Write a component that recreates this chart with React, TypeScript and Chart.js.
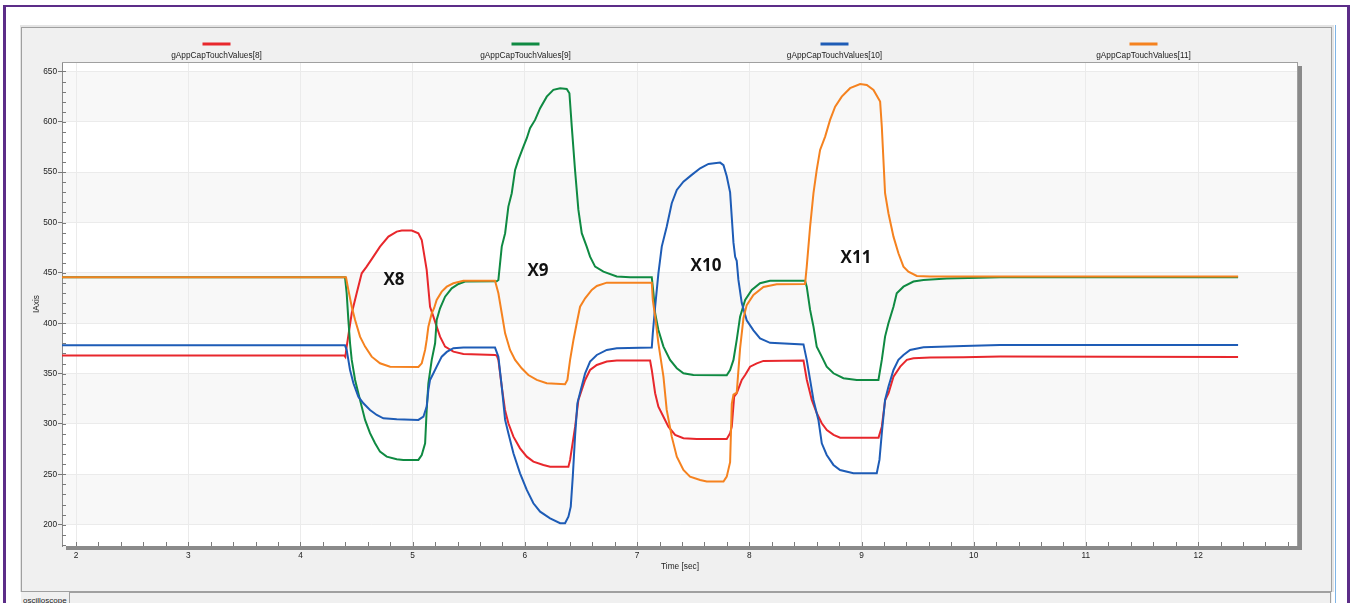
import React, { useEffect, useRef } from 'react';
import { Chart, registerables } from 'chart.js';

Chart.register(...registerables);

const SERIES_LABELS = ['gAppCapTouchValues[8]', 'gAppCapTouchValues[9]', 'gAppCapTouchValues[10]', 'gAppCapTouchValues[11]'];
const SERIES_COLORS = ['#E8272C', '#0F8A42', '#1E5CB6', '#F5821F'];

const RED_T = [1.875, 4.39, 4.4, 4.412, 4.457, 4.501, 4.546, 4.59, 4.65, 4.709, 4.784, 4.858, 4.903, 4.992, 5.051, 5.081, 5.125, 5.155, 5.185, 5.214, 5.244, 5.289, 5.363, 5.452, 5.735, 5.749, 5.764, 5.794, 5.823, 5.853, 5.898, 5.957, 6.017, 6.076, 6.165, 6.225, 6.388, 6.403, 6.448, 6.477, 6.507, 6.537, 6.581, 6.641, 6.73, 6.819, 7.116, 7.131, 7.161, 7.19, 7.235, 7.279, 7.339, 7.413, 7.532, 7.799, 7.829, 7.844, 7.865, 7.888, 7.933, 7.963, 8.007, 8.067, 8.126, 8.483, 8.513, 8.557, 8.602, 8.646, 8.691, 8.751, 8.81, 9.152, 9.181, 9.211, 9.241, 9.285, 9.345, 9.404, 9.463, 9.612, 9.909, 10.236, 12.356];
const RED_V = [368, 368, 366.5, 376.8, 409.9, 429.8, 449.6, 456.2, 466.1, 476.1, 486, 491, 492, 492, 489.4, 482.7, 452.9, 416.4, 406.5, 396.6, 386.7, 376.8, 371.8, 369.5, 368.5, 368, 363.6, 337, 313.9, 300.7, 287.4, 275.8, 267.5, 262.6, 259.3, 257.6, 257.6, 264.3, 297.3, 323.8, 333.8, 343.7, 353.6, 358.6, 361.9, 362.9, 362.9, 353.6, 330.5, 317.2, 307.2, 297.3, 289.1, 285.8, 285.1, 285.1, 290.8, 297.3, 327.1, 330.5, 343.7, 348.6, 356.9, 360.2, 362.6, 362.9, 343.7, 323.8, 310.6, 300.7, 294, 289.1, 286.4, 286.4, 297.3, 323.8, 330.5, 347, 356.9, 363.6, 365.2, 365.9, 366.2, 366.9, 366.5];

const GREEN_T = [1.875, 4.397, 4.412, 4.427, 4.442, 4.457, 4.487, 4.516, 4.546, 4.576, 4.62, 4.665, 4.709, 4.769, 4.858, 4.917, 5.051, 5.081, 5.111, 5.125, 5.14, 5.17, 5.2, 5.214, 5.244, 5.289, 5.348, 5.408, 5.467, 5.749, 5.764, 5.794, 5.824, 5.853, 5.883, 5.913, 5.942, 5.987, 6.017, 6.046, 6.091, 6.136, 6.195, 6.254, 6.314, 6.373, 6.397, 6.418, 6.447, 6.477, 6.507, 6.551, 6.581, 6.626, 6.7, 6.819, 6.938, 7.131, 7.146, 7.161, 7.19, 7.235, 7.294, 7.354, 7.413, 7.502, 7.799, 7.829, 7.859, 7.888, 7.918, 7.963, 8.022, 8.096, 8.185, 8.497, 8.512, 8.542, 8.572, 8.601, 8.646, 8.69, 8.75, 8.839, 8.958, 9.151, 9.181, 9.21, 9.24, 9.285, 9.314, 9.374, 9.463, 9.552, 9.76, 10.235, 12.356];
const GREEN_V = [445.7, 445.7, 429.8, 403.3, 380.1, 363.6, 343.7, 330.5, 317.2, 304, 290.8, 280.8, 272.5, 267.5, 264.9, 264.3, 264.3, 269.2, 280.8, 313.9, 340.4, 363.6, 380.1, 403.3, 414.9, 426.4, 434.7, 439, 441.4, 441.7, 443, 476.1, 489.4, 515.8, 529.1, 552.2, 562.2, 575.4, 583.7, 593.6, 601.9, 613.5, 625, 631.7, 633.4, 632.7, 628.4, 595.2, 552.2, 512.5, 489.4, 476.1, 466.1, 456.2, 451.2, 446.4, 445.7, 445.7, 429.8, 409.9, 393.3, 376.8, 363.6, 355.3, 350.3, 348.6, 348.3, 353.6, 363.6, 383.4, 406.5, 423.1, 433.1, 439.7, 442.1, 442.1, 436.3, 413.2, 396.6, 376.8, 366.8, 356.9, 350.3, 345.4, 343.7, 343.7, 363.6, 386.7, 400, 416.4, 429.8, 436.3, 441.4, 443, 444.4, 445.7, 445.7];

const BLUE_T = [1.875, 4.397, 4.412, 4.442, 4.472, 4.516, 4.561, 4.62, 4.68, 4.739, 4.858, 5.051, 5.096, 5.125, 5.14, 5.155, 5.185, 5.214, 5.259, 5.304, 5.363, 5.452, 5.734, 5.764, 5.794, 5.824, 5.853, 5.898, 5.957, 6.017, 6.076, 6.136, 6.225, 6.314, 6.358, 6.388, 6.409, 6.427, 6.447, 6.468, 6.498, 6.537, 6.581, 6.641, 6.73, 6.819, 7.131, 7.14, 7.161, 7.19, 7.22, 7.264, 7.309, 7.354, 7.413, 7.487, 7.562, 7.636, 7.74, 7.77, 7.799, 7.829, 7.844, 7.859, 7.874, 7.888, 7.903, 7.933, 7.977, 8.037, 8.096, 8.185, 8.483, 8.512, 8.542, 8.572, 8.616, 8.646, 8.69, 8.75, 8.809, 8.928, 9.136, 9.16, 9.181, 9.21, 9.24, 9.285, 9.329, 9.374, 9.433, 9.552, 9.909, 10.235, 12.356];
const BLUE_V = [378.1, 378.1, 373.5, 353.6, 340.4, 327.1, 320.5, 313.9, 308.9, 305.6, 304.6, 304, 307.2, 317.2, 333.8, 343.7, 350.3, 356.9, 366.8, 371.5, 375.2, 375.8, 375.8, 366.8, 337, 304, 290.8, 270.9, 251, 234.5, 221.2, 212.9, 206.3, 201.4, 201.4, 207.9, 217.9, 247.7, 287.4, 320.5, 333.8, 350.3, 361.9, 368.5, 373.5, 375.2, 375.8, 390, 416.4, 449.6, 476.1, 495.9, 519.2, 532.4, 540.6, 547.3, 553.9, 558.2, 559.5, 557, 546, 530, 505, 480, 466, 462, 443, 420, 403, 393, 385, 380.5, 379, 363.6, 343.7, 323.8, 304, 280.8, 269.2, 259.3, 254.3, 251, 251, 264.3, 290.8, 323.8, 337, 353.6, 363.6, 368.5, 373.5, 376.1, 377.5, 378.5, 378.5];

const ORANGE_T = [1.875, 4.406, 4.427, 4.457, 4.487, 4.531, 4.576, 4.635, 4.709, 4.799, 5.051, 5.081, 5.111, 5.125, 5.14, 5.17, 5.191, 5.214, 5.259, 5.304, 5.363, 5.452, 5.734, 5.764, 5.794, 5.824, 5.868, 5.913, 5.972, 6.031, 6.106, 6.195, 6.358, 6.379, 6.403, 6.433, 6.462, 6.492, 6.537, 6.596, 6.641, 6.73, 7.131, 7.14, 7.161, 7.19, 7.235, 7.264, 7.309, 7.354, 7.413, 7.472, 7.562, 7.621, 7.77, 7.799, 7.829, 7.844, 7.859, 7.888, 7.918, 7.948, 7.977, 8.037, 8.126, 8.245, 8.497, 8.512, 8.542, 8.572, 8.601, 8.631, 8.676, 8.72, 8.765, 8.824, 8.898, 8.988, 9.047, 9.107, 9.166, 9.181, 9.21, 9.24, 9.285, 9.329, 9.374, 9.418, 9.493, 9.611, 10.235, 12.356];
const ORANGE_V = [445.7, 445.7, 433.1, 416.4, 403.3, 386.7, 376.8, 366.8, 360.2, 356.9, 356.5, 360.2, 373.5, 383.4, 396.6, 409.9, 414.9, 423.1, 431.4, 436.3, 439.7, 442.1, 442.1, 429.8, 409.9, 390, 373.5, 363.6, 355.3, 348.6, 343.7, 340.4, 339.4, 343.7, 363.6, 383.4, 400, 416.4, 424.8, 433.1, 437, 440.3, 440.3, 423.1, 406.5, 380.1, 347, 313.9, 287.4, 267.5, 254.3, 247.7, 244.4, 242.8, 242.8, 247.7, 262, 320, 329, 331, 375, 405, 418, 428, 436, 438.7, 439, 456.2, 495.9, 529.1, 552.2, 572.1, 585.3, 601.9, 615.1, 625, 633.4, 637.6, 636.6, 631.7, 620.1, 595.2, 529.1, 509.2, 486, 469.5, 456.2, 451.2, 447, 446.4, 446.4, 446.4];

const EVENT_LABELS = ['X8', 'X9', 'X10', 'X11'];
const EVENT_T = [4.834, 6.117, 7.614, 8.951];
const EVENT_V = [443, 452, 456.2, 464.5];

const X_MIN = 1.875;
const X_MAX = 12.89;
const Y_MIN = 178.8;
const Y_MAX = 659.4;
const X_STEP = 1;
const Y_STEP = 50;
const X_MINOR_STEP = 0.2;
const Y_MINOR_STEP = 10;
const SHADED_BANDS = [[200, 250], [300, 350], [400, 450], [500, 550], [600, 650]];

const FONT = '"Liberation Sans", Arial, sans-serif';
const FS = 8.3;

const toPoints = (t: number[], v: number[]) => t.map((x, i) => ({ x, y: v[i] }));

const decorPlugin = {
  id: 'decor',
  beforeDraw(chart: any) {
    const { ctx, chartArea: a, scales } = chart;
    const w = a.right - a.left;
    const h = a.bottom - a.top;
    ctx.save();
    ctx.fillStyle = '#8A8A8A';
    ctx.fillRect(a.left + 4, a.top + 4, w, h);
    ctx.fillStyle = '#FFFFFF';
    ctx.fillRect(a.left, a.top, w, h);
    ctx.fillStyle = '#F8F8F8';
    for (const [lo, hi] of SHADED_BANDS) {
      const y1 = scales.y.getPixelForValue(hi);
      const y2 = scales.y.getPixelForValue(lo);
      ctx.fillRect(a.left, y1, w, y2 - y1);
    }
    ctx.restore();
  },
  beforeDatasetsDraw(chart: any) {
    const { ctx, chartArea: a, scales } = chart;
    ctx.save();
    ctx.strokeStyle = '#A0A0A0';
    ctx.lineWidth = 1;
    ctx.beginPath();
    ctx.moveTo(a.left, a.top + 0.5);
    ctx.lineTo(a.right, a.top + 0.5);
    ctx.moveTo(a.right - 0.5, a.top);
    ctx.lineTo(a.right - 0.5, a.bottom);
    ctx.stroke();
    // minor ticks
    ctx.strokeStyle = '#7A7A7A';
    ctx.beginPath();
    for (let i = 0; ; i++) {
      const v = 2 + i * X_MINOR_STEP;
      if (v > X_MAX) break;
      const px = Math.round(scales.x.getPixelForValue(v)) + 0.5;
      ctx.moveTo(px, a.bottom - 4);
      ctx.lineTo(px, a.bottom);
    }
    for (let i = 0; ; i++) {
      const v = 180 + i * Y_MINOR_STEP;
      if (v > Y_MAX) break;
      const py = Math.round(scales.y.getPixelForValue(v)) + 0.5;
      ctx.moveTo(a.left, py);
      ctx.lineTo(a.left + 4, py);
    }
    ctx.stroke();
    ctx.restore();
  },
  afterDatasetsDraw(chart: any) {
    const { ctx, scales } = chart;
    ctx.save();
    ctx.fillStyle = '#111111';
    ctx.font = 'bold 17px "Open Sans", "Noto Sans", sans-serif';
    ctx.textAlign = 'center';
    ctx.textBaseline = 'middle';
    EVENT_LABELS.forEach((lbl, i) => {
      ctx.fillText(lbl, scales.x.getPixelForValue(EVENT_T[i]), scales.y.getPixelForValue(EVENT_V[i]));
    });
    ctx.restore();
  },
  afterDraw(chart: any) {
    const { ctx, chartArea: a } = chart;
    const colW = (a.right - a.left) / SERIES_LABELS.length;
    ctx.save();
    SERIES_LABELS.forEach((lbl, i) => {
      const cx = a.left + colW * (i + 0.5);
      ctx.strokeStyle = SERIES_COLORS[i];
      ctx.lineWidth = 3;
      ctx.beginPath();
      ctx.moveTo(cx - 14, 44);
      ctx.lineTo(cx + 14, 44);
      ctx.stroke();
      ctx.fillStyle = '#222222';
      ctx.font = `${FS}px ${FONT}`;
      ctx.textAlign = 'center';
      ctx.textBaseline = 'middle';
      ctx.fillText(lbl, cx, 56);
    });
    ctx.restore();
  },
};

export default function App() {
  const ref = useRef<HTMLCanvasElement | null>(null);
  useEffect(() => {
    if (!ref.current) return;
    const seriesT = [RED_T, GREEN_T, BLUE_T, ORANGE_T];
    const seriesV = [RED_V, GREEN_V, BLUE_V, ORANGE_V];
    const drawOrder = [4, 3, 2, 1];
    const chart = new Chart(ref.current, {
      type: 'line',
      data: {
        datasets: SERIES_LABELS.map((label, i) => ({
          label,
          data: toPoints(seriesT[i], seriesV[i]),
          borderColor: SERIES_COLORS[i],
          backgroundColor: SERIES_COLORS[i],
          borderWidth: 2,
          pointRadius: 0,
          tension: 0,
          fill: false,
          order: drawOrder[i],
        })),
      },
      options: {
        animation: false,
        responsive: false,
        devicePixelRatio: 1,
        events: [],
        layout: { padding: { left: 32, top: 62, right: 54, bottom: 31 } },
        plugins: { legend: { display: false }, tooltip: { enabled: false }, title: { display: false } },
        scales: {
          x: {
            type: 'linear',
            min: X_MIN,
            max: X_MAX,
            afterFit: (s: any) => { s.height = 26; },
            ticks: {
              stepSize: X_STEP,
              includeBounds: false,
              autoSkip: false,
              maxRotation: 0,
              padding: 5,
              color: '#222222',
              font: { family: FONT, size: FS },
              callback: (v: any) => String(v),
            },
            grid: { color: '#EBEBEB', drawTicks: false },
            border: { display: false },
            title: { display: true, text: 'Time [sec]', color: '#222222', font: { family: FONT, size: FS }, padding: { top: 0, bottom: 0 } },
          },
          y: {
            type: 'linear',
            min: Y_MIN,
            max: Y_MAX,
            afterFit: (s: any) => { s.width = 30; },
            ticks: {
              stepSize: Y_STEP,
              includeBounds: false,
              padding: 1,
              color: '#222222',
              font: { family: FONT, size: FS },
              callback: (v: any) => String(v),
            },
            grid: { color: '#EBEBEB', drawTicks: true, tickLength: 4, tickColor: '#7A7A7A' },
            border: { display: true, color: '#8A8A8A', width: 1 },
            title: { display: true, text: 'IAxis', color: '#222222', font: { family: FONT, size: FS }, padding: { top: 0, bottom: 0 } },
          },
        },
      },
      plugins: [decorPlugin],
    } as any);
    return () => chart.destroy();
  }, []);

  return (
    <div style={{ position: 'fixed', left: 0, top: 0, width: 1352, height: 603, overflow: 'hidden', background: '#FFFFFF' }}>
      <div style={{ position: 'absolute', left: 3, top: 5, width: 1347, height: 700, boxSizing: 'border-box', borderStyle: 'solid', borderColor: '#5C2D88', borderWidth: '2px 3px 0 3px' }} />
      <div style={{ position: 'absolute', left: 20, top: 25, width: 1314, height: 567, background: '#E4E4E4' }} />
      <div style={{ position: 'absolute', left: 21, top: 27, width: 1311, height: 565, boxSizing: 'border-box', background: '#F0F0F0', border: '1px solid #A0A0A0' }} />
      <div style={{ position: 'absolute', left: 1335, top: 25, width: 1, height: 578, background: '#7FB4E6' }} />
      <div style={{ position: 'absolute', left: 21, top: 592, width: 1311, height: 20, background: '#F0F0F0' }} />
      <div style={{ position: 'absolute', left: 69, top: 592, width: 1262, height: 20, boxSizing: 'border-box', border: '1px solid #A0A0A0', background: '#F0F0F0' }} />
      <div style={{ position: 'absolute', left: 23, top: 596, fontFamily: FONT, fontSize: 8, color: '#222', lineHeight: '10px' }}>oscilloscope</div>
      <canvas ref={ref} width={1352} height={603} style={{ position: 'absolute', left: 0, top: 0, width: 1352, height: 603 }} />
    </div>
  );
}
